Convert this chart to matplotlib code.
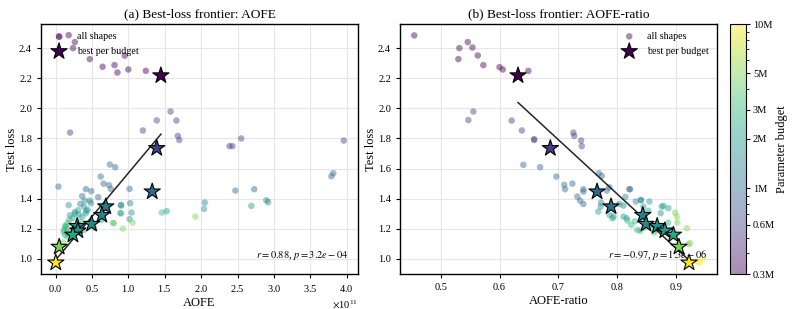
import numpy as np
import matplotlib
matplotlib.use("Agg")
import matplotlib.pyplot as plt
from matplotlib.colors import LogNorm
from matplotlib.ticker import ScalarFormatter, LogLocator, NullFormatter, FixedLocator

plt.rcParams['font.family'] = ['Liberation Serif', 'DejaVu Serif']
plt.rcParams['mathtext.fontset'] = 'stix'

# ---------------- data ----------------
# Panel (a): all shapes  (AOFE in units of 1e11, test loss, budget in M)
a_x = [0.05, 0.18, 0.265, 0.24, 0.47, 0.646, 0.81, 0.85, 0.95, 1.0, 1.24,
       0.20, 1.20, 1.39, 1.58, 1.66, 1.68, 1.70, 2.39, 2.43, 2.55, 3.96,
       0.04, 0.746, 0.82, 0.62, 0.66, 0.733, 0.76, 0.417, 0.49, 1.017, 2.47, 2.73, 3.79, 3.815, 0.366, 0.586,
       0.47, 0.40, 0.34, 1.025, 0.90, 2.05, 2.895, 2.92, 0.44, 0.39, 0.485, 0.898,
       0.18, 0.42, 0.31, 0.265, 1.045, 0.316, 0.197, 0.627, 1.017, 1.526, 2.69, 2.04, 0.233, 0.366, 0.416, 0.898, 0.265,
       0.187, 0.165, 0.141, 0.118, 0.11, 0.128, 0.165, 0.21, 0.256, 0.30, 0.34, 0.385, 0.53, 0.89, 1.46, 0.797, 0.15, 0.13, 0.17,
       0.105, 0.925, 1.058, 1.92, 0.79,
       0.01, 0.03]
a_loss = [2.475, 2.486, 2.44, 2.40, 2.327, 2.276, 2.287, 2.238, 2.35, 2.258, 2.249,
          1.839, 1.853, 1.92, 1.979, 1.919, 1.817, 1.79, 1.749, 1.749, 1.80, 1.786,
          1.48, 1.627, 1.609, 1.547, 1.50, 1.49, 1.465, 1.463, 1.45, 1.465, 1.454, 1.463, 1.549, 1.569, 1.417, 1.41,
          1.387, 1.387, 1.365, 1.37, 1.354, 1.374, 1.39, 1.377, 1.326, 1.348, 1.37, 1.359,
          1.357, 1.32, 1.323, 1.312, 1.308, 1.294, 1.29, 1.259, 1.264, 1.317, 1.352, 1.332, 1.27, 1.281, 1.304, 1.303, 1.30,
          1.259, 1.237, 1.215, 1.193, 1.18, 1.16, 1.148, 1.18, 1.204, 1.226, 1.248, 1.19, 1.208, 1.304, 1.308, 1.237, 1.20, 1.22, 1.17,
          1.111, 1.201, 1.241, 1.281, 1.24,
          0.975, 0.985]
a_budget = ([0.3] * 11 + [0.6] * 11 + [1.0] * 16 + [1.5] * 12 + [2.0] * 17 + [3.0] * 19
            + [5.0] * 5 + [10.0] * 2)

# Panel (b): all shapes (AOFE-ratio, test loss, budget in M)
b_x = [0.455, 0.5317, 0.530, 0.546, 0.554, 0.563, 0.5725, 0.600, 0.6054, 0.649,
       0.547, 0.5555, 0.6207, 0.638, 0.6587, 0.659, 0.7255, 0.727, 0.7386, 0.7398,
       0.6405, 0.669, 0.6966, 0.710, 0.7114, 0.7238, 0.7425, 0.7425, 0.769, 0.7738, 0.7823, 0.7867, 0.8207, 0.7323, 0.737, 0.7425, 0.822,
       0.7726, 0.772, 0.8037, 0.8106, 0.814, 0.8316, 0.8406, 0.840,
       0.768, 0.787, 0.792, 0.8106, 0.8446, 0.853, 0.8548, 0.8758, 0.887, 0.874, 0.8786, 0.816, 0.7936,
       0.8174, 0.824, 0.834, 0.839, 0.846, 0.8503, 0.8475, 0.8628, 0.8673, 0.8866, 0.83, 0.86,
       0.8985, 0.9014, 0.9024, 0.9184, 0.921, 0.924,
       0.9354, 0.945, 0.94]
b_loss = [2.484, 2.40, 2.327, 2.44, 2.404, 2.351, 2.287, 2.274, 2.258, 2.249,
          1.922, 1.979, 1.919, 1.853, 1.795, 1.79, 1.839, 1.817, 1.786, 1.749,
          1.625, 1.609, 1.547, 1.492, 1.463, 1.50, 1.463, 1.447, 1.569, 1.551, 1.454, 1.476, 1.463, 1.414, 1.387, 1.365, 1.463,
          1.374, 1.348, 1.365, 1.354, 1.412, 1.381, 1.392, 1.39,
          1.314, 1.292, 1.27, 1.281, 1.348, 1.319, 1.381, 1.348, 1.337, 1.304, 1.352, 1.27, 1.281,
          1.255, 1.226, 1.193, 1.186, 1.208, 1.237, 1.27, 1.177, 1.197, 1.241, 1.25, 1.22,
          1.308, 1.281, 1.241, 1.204, 1.098, 1.104,
          0.982, 0.998, 0.975]
b_budget = ([0.3] * 10 + [0.6] * 10 + [1.0] * 17 + [1.5] * 8 + [2.0] * 13 + [3.0] * 12
            + [5.0] * 6 + [10.0] * 3)

# Best per budget (stars)
star_budget = [0.3, 0.6, 1.0, 1.2, 1.4, 1.6, 1.8, 2.0, 2.5, 5.0, 10.0]
star_loss = [2.218, 1.735, 1.447, 1.348, 1.291, 1.232, 1.218, 1.188, 1.16, 1.08, 0.975]
star_aofe = [1.447, 1.39, 1.328, 0.69, 0.636, 0.495, 0.297, 0.307, 0.238, 0.05, 0.003]
star_ratio = [0.6315, 0.6864, 0.7658, 0.7896, 0.8435, 0.849, 0.868, 0.881, 0.8956, 0.905, 0.9222]

cbar_ticks = [0.3, 0.6, 1, 2, 3, 5, 10]
cbar_labels = ['0.3M', '0.6M', '1M', '2M', '3M', '5M', '10M']

titles = ['(a) Best-loss frontier: AOFE', '(b) Best-loss frontier: AOFE-ratio']
xlabels = ['AOFE', 'AOFE-ratio']
stats = [r'$r=0.88$, $p=3.2e-04$', r'$r=-0.97$, $p=1.3e-06$']

# ---------------- plot ----------------
W, H = 793, 309
fig = plt.figure(figsize=(W / 100, H / 100), dpi=100)
axa = fig.add_axes([41 / W, 35 / H, 317 / W, 250 / H])
axb = fig.add_axes([400 / W, 35 / H, 317 / W, 250 / H])
cax = fig.add_axes([730 / W, 35 / H, 16 / W, 250 / H])

norm = LogNorm(vmin=0.3, vmax=10)
cmap = plt.get_cmap('viridis')

panels = [
    (axa, np.array(a_x) * 1e11, a_loss, a_budget, np.array(star_aofe) * 1e11, 'upper left'),
    (axb, np.array(b_x), b_loss, b_budget, np.array(star_ratio), 'upper right'),
]

sc_ref = None
for i, (ax, px, py, pb, sx, loc) in enumerate(panels):
    ax.grid(True, color='#e6e6e6', linewidth=0.8, zorder=0)
    ax.set_axisbelow(True)
    sc = ax.scatter(px, py, c=pb, cmap=cmap, norm=norm, s=22, alpha=0.45,
                    edgecolors='none', zorder=2, label='all shapes')
    ax.scatter(sx, star_loss, c=star_budget, cmap=cmap, norm=norm, s=150,
               marker='*', edgecolors='black', linewidths=0.8, zorder=4,
               label='best per budget')
    coef = np.polyfit(sx, star_loss, 1)
    xl = np.array([np.min(sx), np.max(sx)])
    ax.plot(xl, np.polyval(coef, xl), color='black', lw=1.1, alpha=0.85, zorder=3)
    ax.text(0.97, 0.05, stats[i], transform=ax.transAxes, ha='right', va='bottom',
            fontsize=7.5, zorder=5)
    ax.set_title(titles[i], fontsize=9.6, pad=5)
    ax.set_xlabel(xlabels[i], fontsize=9, labelpad=2)
    ax.set_ylabel('Test loss', fontsize=9, labelpad=1)
    ax.tick_params(labelsize=7.5, length=3, width=0.8)
    ax.set_ylim(0.90, 2.56)
    ax.legend(loc=loc, frameon=False, fontsize=7.2, handletextpad=0.8,
              borderaxespad=0.3, labelspacing=0.6, borderpad=0.5)
    for s in ax.spines.values():
        s.set_linewidth(1.0)
    sc_ref = sc

axa.set_xlim(-0.2e11, 4.155e11)
axb.set_xlim(0.4308, 0.9697)
axa.set_xticks(np.arange(0, 4.01, 0.5) * 1e11)
fmt = ScalarFormatter(useMathText=True)
fmt.set_powerlimits((0, 0))
axa.xaxis.set_major_formatter(fmt)
axa.xaxis.get_offset_text().set_fontsize(7.5)
axb.set_xticks([0.5, 0.6, 0.7, 0.8, 0.9])
axa.set_yticks([1.0, 1.2, 1.4, 1.6, 1.8, 2.0, 2.2, 2.4])
axb.set_yticks([1.0, 1.2, 1.4, 1.6, 1.8, 2.0, 2.2, 2.4])

cb = fig.colorbar(sc_ref, cax=cax)
cb.ax.yaxis.set_major_locator(FixedLocator(cbar_ticks))
cb.ax.set_yticklabels(cbar_labels)
cb.ax.yaxis.set_minor_locator(LogLocator(base=10, subs=np.arange(2, 10)))
cb.ax.yaxis.set_minor_formatter(NullFormatter())
cb.ax.tick_params(labelsize=7.5, length=3, width=0.8, pad=2)
cb.ax.tick_params(which='minor', length=2)
cb.set_label('Parameter budget', fontsize=9, labelpad=1)
cb.outline.set_linewidth(0.8)

fig.savefig('out.png', dpi=100)
